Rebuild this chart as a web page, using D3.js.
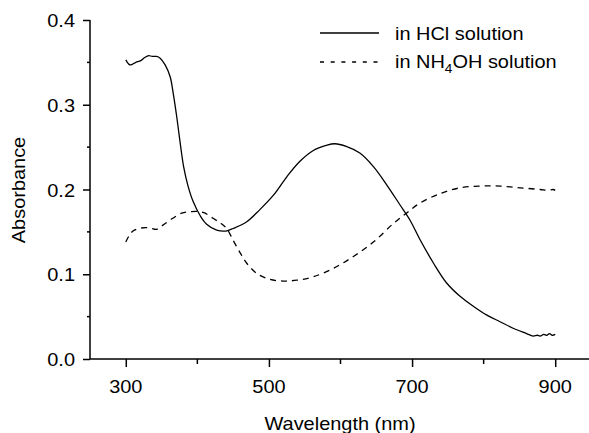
<!DOCTYPE html>
<html>
<head>
<meta charset="utf-8">
<script src="https://cdn.jsdelivr.net/npm/d3@7"></script>
<style>
  body { margin: 0; background: #fff; }
  text { font-family: "Liberation Sans", Arial, sans-serif; fill: #000; }
</style>
</head>
<body>
<div id="chart"></div>
<script>
// spectra (wavelength nm, absorbance)
var hclWave = [300, 306, 314, 321, 327, 332, 337, 343, 348, 355, 362, 366, 371, 376, 381, 387, 394, 404, 413, 427,
  440, 450, 469, 487, 506, 525, 543, 562, 580, 592, 608, 627, 646, 665, 683, 697, 711, 730, 748, 767,
  786, 804, 823, 842, 860, 869, 875, 879, 884, 888, 892, 896, 900];
var hclAbs = [0.353, 0.347, 0.350, 0.352, 0.356, 0.358, 0.357, 0.357, 0.355, 0.347, 0.333, 0.315, 0.287, 0.255, 0.226, 0.204, 0.186, 0.169, 0.159, 0.152,
  0.151, 0.154, 0.162, 0.176, 0.193, 0.215, 0.233, 0.246, 0.252, 0.254, 0.251, 0.243, 0.227, 0.205, 0.182, 0.164, 0.141, 0.113, 0.090, 0.074,
  0.062, 0.052, 0.044, 0.036, 0.030, 0.027, 0.028, 0.027, 0.029, 0.028, 0.030, 0.028, 0.029];

var nhWave = [300, 305, 310, 318, 329, 336, 343, 352, 362, 378, 392, 408, 422, 433, 441, 450, 460, 469, 483, 501,
  520, 539, 562, 590, 618, 646, 674, 692, 711, 739, 767, 795, 823, 851, 879, 890, 897, 900];
var nhAbs = [0.138, 0.146, 0.151, 0.154, 0.155, 0.154, 0.153, 0.158, 0.164, 0.172, 0.174, 0.173, 0.166, 0.160, 0.154, 0.140, 0.125, 0.113, 0.101, 0.094,
  0.092, 0.093, 0.097, 0.107, 0.121, 0.138, 0.160, 0.172, 0.184, 0.195, 0.202, 0.204, 0.204, 0.202, 0.200, 0.199, 0.200, 0.199];

var xMajor = [300, 500, 700, 900];
var xMinor = [400, 600, 800];
var yMajor = [0.0, 0.1, 0.2, 0.3, 0.4];
var yMinor = [0.05, 0.15, 0.25, 0.35];
var legendLabels = ["in HCl solution", "in NH4OH solution"];

var width = 589, height = 433;
var fs = 19, stretch = 1.05; // figure text looks slightly wide

var svg = d3.select("#chart").append("svg")
  .attr("width", width)
  .attr("height", height);

var x = d3.scaleLinear().domain([250, 950]).range([90, 591]);
var y = d3.scaleLinear().domain([0, 0.4]).range([359, 20]);

// text helper, stretches horizontally around the anchor point
function label(g, tx, ty, str, anchor) {
  return g.append("text")
    .attr("transform", "translate(" + tx + "," + ty + ") scale(" + stretch + ",1)")
    .attr("text-anchor", anchor || "start")
    .style("font-size", fs + "px")
    .text(str);
}

// y axis
var yAxis = d3.axisLeft(y).tickValues(yMajor).tickSize(7).tickFormat("");
var gy = svg.append("g").attr("transform", "translate(90,0)").call(yAxis);
yMinor.forEach(function (v) {
  gy.append("line").attr("x1", -3).attr("x2", 0).attr("y1", y(v)).attr("y2", y(v));
});
gy.select(".domain").attr("d", "M0," + y(0.4) + "V" + y(0));
gy.selectAll("line").attr("stroke", "#000").attr("stroke-width", 1.5);
gy.select(".domain").attr("stroke", "#000").attr("stroke-width", 1.5);
yMajor.forEach(function (v) {
  label(svg, 75, y(v) + 7, d3.format(".1f")(v), "end");
});

// x axis
var xAxis = d3.axisBottom(x).tickValues(xMajor).tickSize(8).tickFormat("");
var gx = svg.append("g").attr("transform", "translate(0,359)").call(xAxis);
gx.select(".domain").attr("d", "M90,0H" + width);
xMinor.forEach(function (v) {
  gx.append("line").attr("x1", x(v)).attr("x2", x(v)).attr("y1", 0).attr("y2", 5);
});
gx.selectAll("line").attr("stroke", "#000").attr("stroke-width", 1.5);
gx.select(".domain").attr("stroke", "#000").attr("stroke-width", 1.5);
xMajor.forEach(function (v) {
  label(svg, x(v), 393, String(v), "middle");
});

label(svg, 340, 430, "Wavelength (nm)", "middle");
svg.append("text")
  .attr("transform", "translate(25,190) rotate(-90) scale(" + stretch + ",1)")
  .attr("text-anchor", "middle")
  .style("font-size", fs + "px")
  .text("Absorbance");

// curves
var line = d3.line()
  .x(function (d) { return x(d[0]); })
  .y(function (d) { return y(d[1]); })
  .curve(d3.curveCatmullRom.alpha(0.5));

svg.append("path")
  .datum(d3.zip(hclWave, hclAbs))
  .attr("d", line)
  .attr("fill", "none")
  .attr("stroke", "#000")
  .attr("stroke-width", 1.3);

svg.append("path")
  .datum(d3.zip(nhWave, nhAbs))
  .attr("d", line)
  .attr("fill", "none")
  .attr("stroke", "#000")
  .attr("stroke-width", 1.3)
  .attr("stroke-dasharray", "6,5");

// legend
var leg = svg.append("g");
leg.append("line").attr("x1", 320).attr("x2", 379).attr("y1", 33).attr("y2", 33)
  .attr("stroke", "#000").attr("stroke-width", 1.3);
leg.append("line").attr("x1", 320).attr("x2", 379).attr("y1", 62).attr("y2", 62)
  .attr("stroke", "#000").attr("stroke-width", 1.3).attr("stroke-dasharray", "4,6.7");

label(leg, 395, 40, legendLabels[0]);
var t2 = label(leg, 395, 68, "");
t2.append("tspan").text("in NH");
t2.append("tspan").attr("dy", 5).style("font-size", "13px").text("4");
t2.append("tspan").attr("dy", -5).text("OH solution");
</script>
</body>
</html>
